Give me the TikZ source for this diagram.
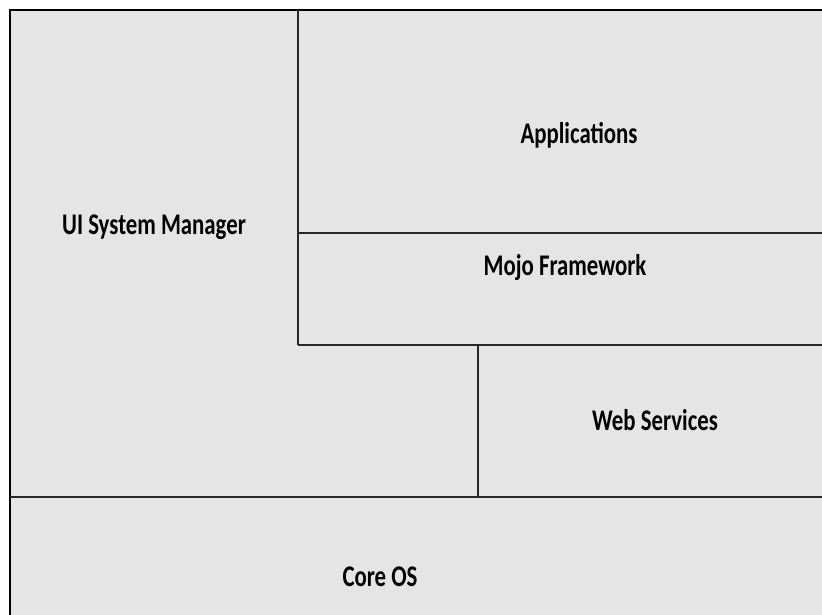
\documentclass[tikz,border=0pt]{standalone}
\usepackage{fontspec}
\setmainfont{Carlito}[FakeStretch=0.76]
\usepackage{tikz}
\usetikzlibrary{positioning,calc}
\definecolor{layergray}{HTML}{E5E5E5}
\definecolor{edgegray}{HTML}{262626}

\begin{document}
\begin{tikzpicture}[x=1pt, y=-1pt,
		layer/.style={anchor=base, font=\bfseries\fontsize{30}{33}\selectfont, inner sep=0pt},
		border/.style={draw=edgegray, line width=2pt}]
		\useasboundingbox (0,0) rectangle (822,615);
		
		% background
		\fill[layergray] (10,10) rectangle (822,615);
		\draw[black, line width=2.4pt] (822,10) -- (10,10) -- (10,615);
		
		% layer borders
		\draw[border] (298,10) -- (298,345);
		\draw[border] (298,233) -- (822,233);
		\draw[border] (298,345) -- (822,345);
		\draw[border] (478,345) -- (478,497);
		\draw[border] (10,497) -- (822,497);
		
		% layer labels
		\node[layer] (uimgr) at (154,234) {UI System Manager};
		\node[layer] (apps) at (579,143) {Applications};
		\node[layer] (mojo) at (565,275) {Mojo Framework};
		\node[layer] (websvc) at (655,430) {Web Services};
		\node[layer] (coreos) at (380,586) {Core OS};
	\end{tikzpicture}
\end{document}
